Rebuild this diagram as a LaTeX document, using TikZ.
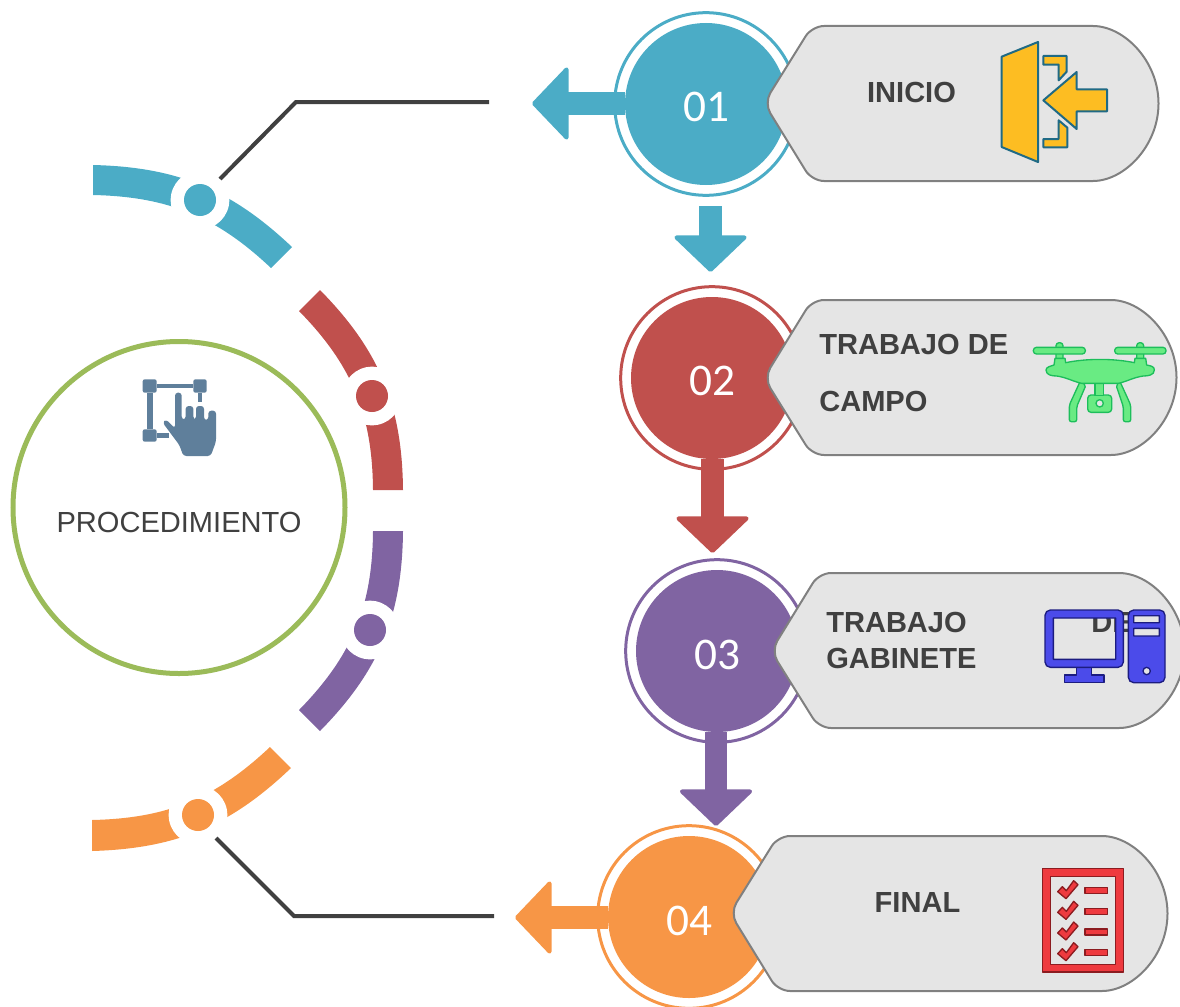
\documentclass[tikz,border=0pt]{standalone}
\usepackage{fontspec}
\setmainfont{Liberation Sans}
\newfontfamily\numfont{Carlito}
\usetikzlibrary{arrows.meta}
\definecolor{tealc}{HTML}{4BACC6}
\definecolor{redc}{HTML}{C0504D}
\definecolor{purplec}{HTML}{8064A2}
\definecolor{orangec}{HTML}{F79646}
\definecolor{greenc}{HTML}{9BBB59}
\definecolor{textc}{HTML}{404040}
\definecolor{doorfill}{HTML}{FDBD22}
\definecolor{doorline}{HTML}{1F6A85}
\definecolor{dronefill}{HTML}{69EB83}
\definecolor{droneline}{HTML}{1DBE5B}
\definecolor{pcfill}{HTML}{4B4BEA}
\definecolor{pcline}{HTML}{1C1C80}
\definecolor{listfill}{HTML}{EE3A3F}
\definecolor{listline}{HTML}{8C1C20}
\definecolor{handc}{HTML}{5F7F9B}
\tikzset{
  stepdisc/.style={circle,fill=#1,minimum size=121.5pt,inner sep=0pt},
  stepring/.style={circle,draw=#1,line width=2.25pt,minimum size=137pt,inner sep=0pt},
  stepnum/.style={text=white,inner sep=0pt,font=\numfont\fontsize{34}{40}\selectfont},
  flowline/.style={draw=#1,line width=17pt,-{Triangle[width=58pt,length=28pt,round,line width=3pt,fill=#1]}},
  calloutbody/.style={draw=gray,fill=black!10,line width=1.5pt,rounded corners=9pt},
  titlebold/.style={font=\bfseries\fontsize{21.8}{26}\selectfont,text=textc,inner sep=0pt},
  arcdot/.style={circle,fill=#1,minimum size=24pt,inner sep=0pt},
  halo/.style={circle,fill=white,minimum size=44pt,inner sep=0pt},
  leader/.style={draw=textc,line width=3pt},
  doorpart/.style={fill=doorfill,draw=doorline},
  dronepart/.style={fill=dronefill,draw=droneline},
  pcpart/.style={fill=pcfill,draw=pcline,even odd rule},
  listpart/.style={fill=listfill,draw=listline,even odd rule}
}
\begin{document}
\begin{tikzpicture}[x=0.75pt,y=-0.75pt]
  \clip (0,0) rectangle (1180,1006);

  \fill[tealc] (93,165) to[bend left=21] (292,247) -- (271,268) to[bend right=21] (93,195) -- cycle;
  \fill[redc] (320,290) to[bend left=22] (403,490) -- (373,490) to[bend right=22] (299,311) -- cycle;
  \fill[purplec] (403,531) to[bend left=22] (320,731) -- (299,710) to[bend right=22] (373,531) -- cycle;
  \fill[orangec] (291,768) to[bend left=21] (92,851) -- (92,820) to[bend right=21] (270,747) -- cycle;

  \node[halo] (haloA) at (200,200) {};
  \node[halo] (haloB) at (372,396) {};
  \node[halo] (haloC) at (370,630) {};
  \node[halo] (haloD) at (198,815) {};
  \node[arcdot=tealc] (dotA) at (200,200) {};
  \node[arcdot=redc] (dotB) at (372,396) {};
  \node[arcdot=purplec] (dotC) at (370,630) {};
  \node[arcdot=orangec] (dotD) at (198,815) {};

  \node[circle,draw=greenc,line width=3.75pt,minimum size=249pt,inner sep=0pt] (proc) at (179,507.5) {};
  \node[text=textc,font=\fontsize{21.8}{26}\selectfont,inner sep=0pt] (procText) at (179,522) {PROCEDIMIENTO};

  \coordinate (leadA) at (220,179);
  \coordinate (kneeA) at (296,102);
  \coordinate (endA) at (489,102);
  \coordinate (leadD) at (216,838);
  \coordinate (kneeD) at (294,916);
  \coordinate (endD) at (494,916);
  \draw[leader] (leadA) -- (kneeA) -- (endA);
  \draw[leader] (leadD) -- (kneeD) -- (endD);

  \node[stepring=tealc] (ringA) at (706,104) {};
  \node[stepring=redc] (ringB) at (712,378) {};
  \node[stepring=purplec] (ringC) at (717,651) {};
  \node[stepring=orangec] (ringD) at (689,917) {};
  \node[stepdisc=tealc] (stepA) at (706,104) {};
  \node[stepdisc=redc] (stepB) at (712,378) {};
  \node[stepdisc=purplec] (stepC) at (717,651) {};
  \node[stepdisc=orangec] (stepD) at (689,917) {};
  \node[stepnum] (numA) at (706,107) {01};
  \node[stepnum] (numB) at (712,381) {02};
  \node[stepnum] (numC) at (717,655) {03};
  \node[stepnum] (numD) at (689,921) {04};

  \coordinate (tipA) at (532,103.5);
  \coordinate (tipB) at (710.5,272);
  \coordinate (tipC) at (712.5,553);
  \coordinate (tipD) at (716,826);
  \coordinate (tipE) at (515,917.5);
  \draw[flowline=tealc] (stepA.west |- tipA) -- (tipA);
  \draw[flowline=tealc] (tipB |- 0,206) -- (tipB);
  \draw[flowline=redc] (tipC |- stepB.south) -- (tipC);
  \draw[flowline=purplec] (tipD |- stepC.south) -- (tipD);
  \draw[flowline=orangec] (stepD.west |- tipE) -- (tipE);

  \draw[calloutbody] (764,103) -- (812,26) -- (1081,26) arc[start angle=-90,end angle=90,radius=77.5] -- (812,181) -- cycle;
  \draw[calloutbody] (764,378) -- (812,300) -- (1099,300) arc[start angle=-90,end angle=90,radius=77.5] -- (812,455) -- cycle;
  \draw[calloutbody] (771,651) -- (819,573) -- (1107,573) arc[start angle=-90,end angle=90,radius=77.5] -- (819,728) -- cycle;
  \draw[calloutbody] (730,913) -- (778,836) -- (1090,836) arc[start angle=-90,end angle=90,radius=77.5] -- (778,991) -- cycle;

  \node[titlebold] (titleA) at (911.5,92) {INICIO};
  \node[titlebold,anchor=west] (titleB) at (819,344) {TRABAJO DE};
  \node[titlebold,anchor=west] (titleBb) at (819,401) {CAMPO};
  \node[titlebold,anchor=west] (titleC) at (826,622) {TRABAJO};
  \node[titlebold,anchor=west] (titleCa) at (1091,622) {DE};
  \node[titlebold,anchor=west] (titleCb) at (826,658) {GABINETE};
  \node[titlebold] (titleD) at (917.5,902) {FINAL};

  \begin{scope}[shift={(980,20)},x=0.25pt,y=-0.25pt,line width=1.5pt,line join=round]
    \filldraw[doorpart] (65,110) -- (174,66) -- (174,426) -- (65,381) -- cycle;
    \filldraw[doorpart] (190,108) -- (260,108) -- (260,155) -- (236,181) -- (236,134) -- (190,134) -- cycle;
    \filldraw[doorpart] (190,382) -- (262,382) -- (262,323) -- (236,301) -- (236,357) -- (190,357) -- cycle;
    \filldraw[doorpart] (190,241) -- (290,156) -- (290,208) -- (381,208) -- (381,274) -- (290,274) -- (290,327) -- cycle;
  \end{scope}

  \begin{scope}[shift={(1010,320)},x=0.25pt,y=-0.25pt,line width=1pt,line join=round]
    \filldraw[dronepart,rounded corners=1.5pt] (210,185) -- (178,255) -- (178,305) -- (200,305) -- (200,260) -- (228,195) -- cycle;
    \filldraw[dronepart,rounded corners=1.5pt] (330,185) -- (362,255) -- (362,305) -- (340,305) -- (340,260) -- (318,195) -- cycle;
    \filldraw[dronepart,rounded corners=2.5pt] (233,225) rectangle (305,277);
    \filldraw[dronepart] (255,190) rectangle (280,226);
    \filldraw[fill=black!10,draw=droneline] (269,250) circle (11);
    \filldraw[dronepart,rounded corners=2.3pt] (138,68) rectangle (159,130);
    \filldraw[dronepart,rounded corners=2.3pt] (380,68) rectangle (401,130);
    \filldraw[dronepart,rounded corners=2.3pt] (70,82) rectangle (226,102);
    \filldraw[dronepart,rounded corners=2.3pt] (314,82) rectangle (468,102);
    \filldraw[dronepart] (108,150) .. controls (108,140) and (125,138) .. (132,135) -- (135,115) -- (165,115) -- (167,128)
      .. controls (230,115) and (310,115) .. (373,128) -- (375,115) -- (407,115) -- (410,135)
      .. controls (425,138) and (433,140) .. (433,150) .. controls (433,165) and (415,168) .. (400,168)
      .. controls (370,172) and (350,185) .. (325,190) -- (215,190) .. controls (190,185) and (170,172) .. (140,168)
      .. controls (125,168) and (108,165) .. (108,150) -- cycle;
  \end{scope}

  \begin{scope}[shift={(1030,590)},x=0.25pt,y=-0.25pt,line width=1pt,line join=round]
    \filldraw[pcpart] (140,232) -- (185,232) -- (185,255) -- (222,255) -- (222,278) -- (104,278) -- (104,255) -- (140,255) -- cycle;
    \filldraw[pcpart] [rounded corners=4pt] (45,60) rectangle (280,232) [sharp corners] (70,84) rectangle (257,208);
    \filldraw[pcpart] [rounded corners=4pt] (295,60) rectangle (405,278) [sharp corners] (311,77) rectangle (388,98) (311,115) rectangle (388,138) (350,243) circle (11);
  \end{scope}

  \begin{scope}[shift={(1030,860)},x=0.25pt,y=-0.25pt,line width=1pt,line join=round]
    \filldraw[listpart] (38,26) rectangle (280,336) (62,50) rectangle (257,313);
    \foreach \row in {0,62,124,186} {
      \filldraw[listpart] (83,95+\row) -- (97,80+\row) -- (109,92+\row) -- (131,62+\row) -- (144,74+\row) -- (108,116+\row) -- cycle;
      \filldraw[listpart] (165,83+\row) rectangle (233,101+\row);
    }
  \end{scope}

  \begin{scope}[shift={(130,370)},x=0.25pt,y=-0.25pt]
    \fill[handc,rounded corners=1.5pt] (38,28) rectangle (80,68);
    \fill[handc,rounded corners=1.5pt] (190,28) rectangle (230,68);
    \fill[handc,rounded corners=1.5pt] (38,178) rectangle (80,215);
    \fill[handc] (80,41) rectangle (190,55);
    \fill[handc] (52,68) rectangle (68,178);
    \fill[handc] (80,189) rectangle (118,203);
    \fill[handc] (204,68) rectangle (216,97);
    \fill[handc,rounded corners=2.2pt] (135,68) -- (155,68) -- (155,148) -- (167,148) -- (167,108) -- (190,108) -- (190,148) -- (198,148) -- (198,108) -- (222,108) -- (222,150) -- (235,150) -- (235,122) -- (258,122) -- (258,215) -- (242,258) -- (160,258) -- (148,225) -- (98,158) -- (108,148) -- (135,175) -- cycle;
  \end{scope}
\end{tikzpicture}
\end{document}
